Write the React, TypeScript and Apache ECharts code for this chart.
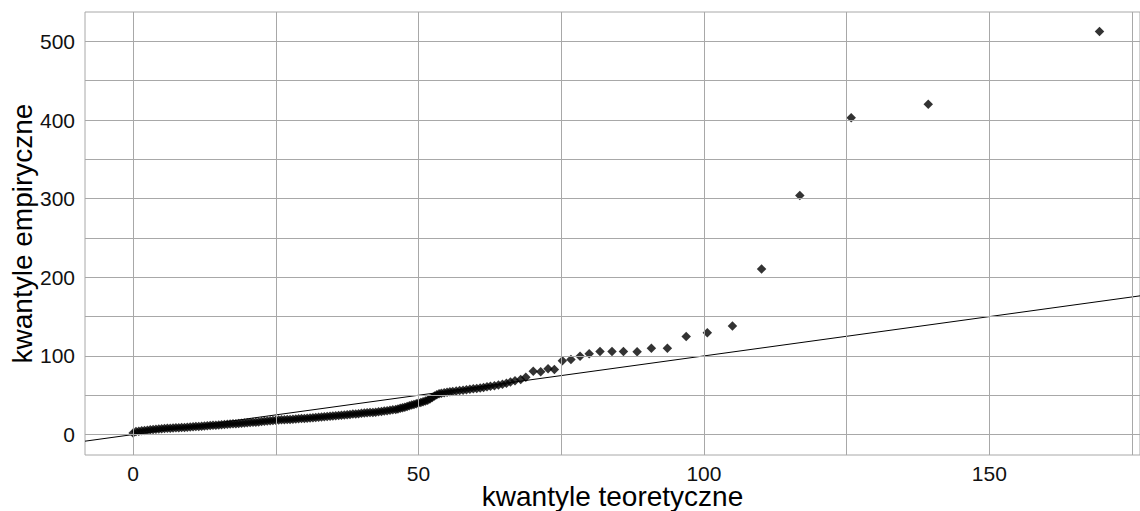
import React, { useEffect, useRef } from "react";
import * as echarts from "echarts";

// Dense part of the sample (theoretical vs empirical quantiles)
const bandTheoretical = [
  0, 0.5, 1, 1.5, 2, 2.5, 3, 3.5, 4, 4.5,
  5, 5.5, 6, 6.5, 7, 7.5, 8, 8.5, 9, 9.5,
  10, 10.5, 11, 11.5, 12, 12.5, 13, 13.5, 14, 14.5,
  15, 15.5, 16, 16.5, 17, 17.5, 18, 18.5, 19, 19.5,
  20, 20.5, 21, 21.5, 22, 22.5, 23, 23.5, 24, 24.5,
  25, 25.5, 26, 26.5, 27, 27.5, 28, 28.5, 29, 29.5,
  30, 30.5, 31, 31.5, 32, 32.5, 33, 33.5, 34, 34.5,
  35, 35.5, 36, 36.5, 37, 37.5, 38, 38.5, 39, 39.5,
  40, 40.5, 41, 41.5, 42, 42.5, 43, 43.5, 44, 44.5,
  45, 45.5, 46,
  46.4, 46.8, 47.2, 47.6, 48.0, 48.4, 48.8, 49.2, 49.6, 50.0,
  50.4, 50.8, 51.2, 51.6, 52.0, 52.4, 52.8, 53.2, 53.6, 54.0,
  54.5, 55.0, 55.5, 56.0, 56.6, 57.2, 57.8, 58.4, 59.0, 59.6,
  60.2, 60.8, 61.4, 62.0, 62.6, 63.3, 64.0, 64.7, 65.4, 66.1,
  66.9,
];
const bandEmpirical = [
  2.0, 3.8, 4.3, 4.8, 5.2, 5.6, 6.0, 6.4, 6.8, 7.2,
  7.5, 7.7, 7.9, 8.1, 8.3, 8.5, 8.7, 8.9, 9.1, 9.3,
  9.6, 9.9, 10.2, 10.4, 10.7, 10.9, 11.2, 11.4, 11.7, 11.9,
  12.2, 12.4, 12.7, 13.0, 13.3, 13.6, 13.9, 14.2, 14.5, 14.7,
  15.0, 15.2, 15.5, 15.8, 16.1, 16.5, 16.9, 17.2, 17.5, 17.9,
  18.2, 18.4, 18.7, 18.9, 19.1, 19.3, 19.6, 19.8, 20.1, 20.3,
  20.5, 20.8, 21.1, 21.4, 21.7, 22.0, 22.3, 22.7, 23.0, 23.3,
  23.6, 24.0, 24.3, 24.6, 25.0, 25.3, 25.6, 26.0, 26.3, 26.6,
  27.0, 27.3, 27.6, 27.9, 28.2, 28.5, 28.9, 29.3, 29.8, 30.3,
  30.8, 31.4, 32.0,
  32.6, 33.3, 34.0, 34.8, 35.7, 36.6, 37.5, 38.3, 39.1, 40.0,
  40.9, 41.8, 42.7, 43.7, 45.2, 47.0, 49.0, 50.6, 51.8, 52.6,
  53.2, 53.8, 54.3, 54.8, 55.4, 55.9, 56.5, 57.0, 57.6, 58.1,
  58.7, 59.3, 60.0, 60.8, 61.5, 62.2, 62.9, 64.0, 65.3, 66.8,
  68.3,
];

// Upper tail (individually visible points)
const tailTheoretical = [
  67.9, 68.8, 70.1, 71.4, 72.7, 73.8, 75.2, 76.7, 78.3, 79.9,
  81.8, 83.9, 85.9, 88.3, 90.8, 93.6, 96.9, 100.6, 105.0, 110.1,
  116.8, 125.8, 139.3, 169.3,
];
const tailEmpirical = [
  70.0, 72.8, 80.6, 80.0, 83.6, 82.8, 93.8, 95.3, 99.6, 102.8,
  105.7, 105.7, 105.7, 105.3, 109.9, 109.9, 124.6, 129.4, 138.2, 210.6,
  303.9, 402.9, 420.2, 512.5,
];

const xTicks = [0, 50, 100, 150];
const xMinor = [25, 75, 125, 175];
const yTicks = [0, 100, 200, 300, 400, 500];
const yMinor = [50, 150, 250, 350, 450];
const xRange = [-8.43, 176.4];
const yRange = [-26, 537.4];

const xTitle = "kwantyle teoretyczne";
const yTitle = "kwantyle empiryczne";

const FONT = "'Liberation Sans', Arial, Helvetica, sans-serif";
const GRID_COLOR = "#a8a8a8";

export default function App() {
  const ref = useRef<HTMLDivElement>(null);

  useEffect(() => {
    if (!ref.current) return;
    const chart = echarts.init(ref.current, undefined, { renderer: "svg" });

    const points: number[][] = [];
    bandTheoretical.forEach((x, i) => points.push([x, bandEmpirical[i]]));
    tailTheoretical.forEach((x, i) => points.push([x, tailEmpirical[i]]));

    const gridLines = [
      ...xTicks.concat(xMinor).map((v) => ({ xAxis: v })),
      ...yTicks.concat(yMinor).map((v) => ({ yAxis: v })),
    ];

    chart.setOption({
      animation: false,
      backgroundColor: "#ffffff",
      grid: {
        left: 85,
        right: 0,
        top: 12,
        bottom: 56,
        containLabel: false,
        outerBoundsMode: "none",
        show: true,
        borderColor: GRID_COLOR,
        borderWidth: 1,
        backgroundColor: "#ffffff",
      },
      xAxis: {
        type: "value",
        min: xRange[0],
        max: xRange[1],
        name: xTitle,
        nameLocation: "middle",
        nameMoveOverlap: false,
        nameGap: 29,
        nameTextStyle: { fontFamily: FONT, fontSize: 28, lineHeight: 24, color: "#000" },
        axisLine: { show: false },
        splitLine: { show: false },
        axisTick: {
          show: true,
          length: 5,
          customValues: xTicks,
          lineStyle: { color: "#333" },
        },
        axisLabel: {
          customValues: xTicks,
          margin: 9,
          fontFamily: FONT,
          fontSize: 21,
          lineHeight: 18,
          color: "#111",
        },
      },
      yAxis: {
        type: "value",
        min: yRange[0],
        max: yRange[1],
        name: yTitle,
        nameLocation: "middle",
        nameMoveOverlap: false,
        nameGap: 49,
        nameTextStyle: { fontFamily: FONT, fontSize: 28, color: "#000" },
        axisLine: { show: false },
        splitLine: { show: false },
        axisTick: {
          show: true,
          length: 5,
          customValues: yTicks,
          lineStyle: { color: "#333" },
        },
        axisLabel: {
          customValues: yTicks,
          margin: 10,
          fontFamily: FONT,
          fontSize: 21,
          color: "#111",
        },
      },
      series: [
        {
          type: "line",
          data: [],
          z: 1,
          silent: true,
          markLine: {
            silent: true,
            symbol: ["none", "none"],
            label: { show: false },
            lineStyle: { color: GRID_COLOR, width: 1, type: "solid" },
            emphasis: { disabled: true },
            data: gridLines,
            animation: false,
          },
        },
        {
          type: "scatter",
          data: points,
          symbol: "diamond",
          symbolSize: 9.5,
          itemStyle: { color: "#000" },
          z: 3,
          silent: true,
        },
        {
          type: "line",
          data: [
            [xRange[0], xRange[0]],
            [xRange[1], xRange[1]],
          ],
          symbol: "none",
          lineStyle: { color: "#000", width: 1 },
          z: 4,
          silent: true,
        },
      ],
    });

    return () => chart.dispose();
  }, []);

  return (
    <div
      ref={ref}
      style={{ position: "absolute", left: 0, top: 0, width: 1140, height: 511 }}
    />
  );
}
